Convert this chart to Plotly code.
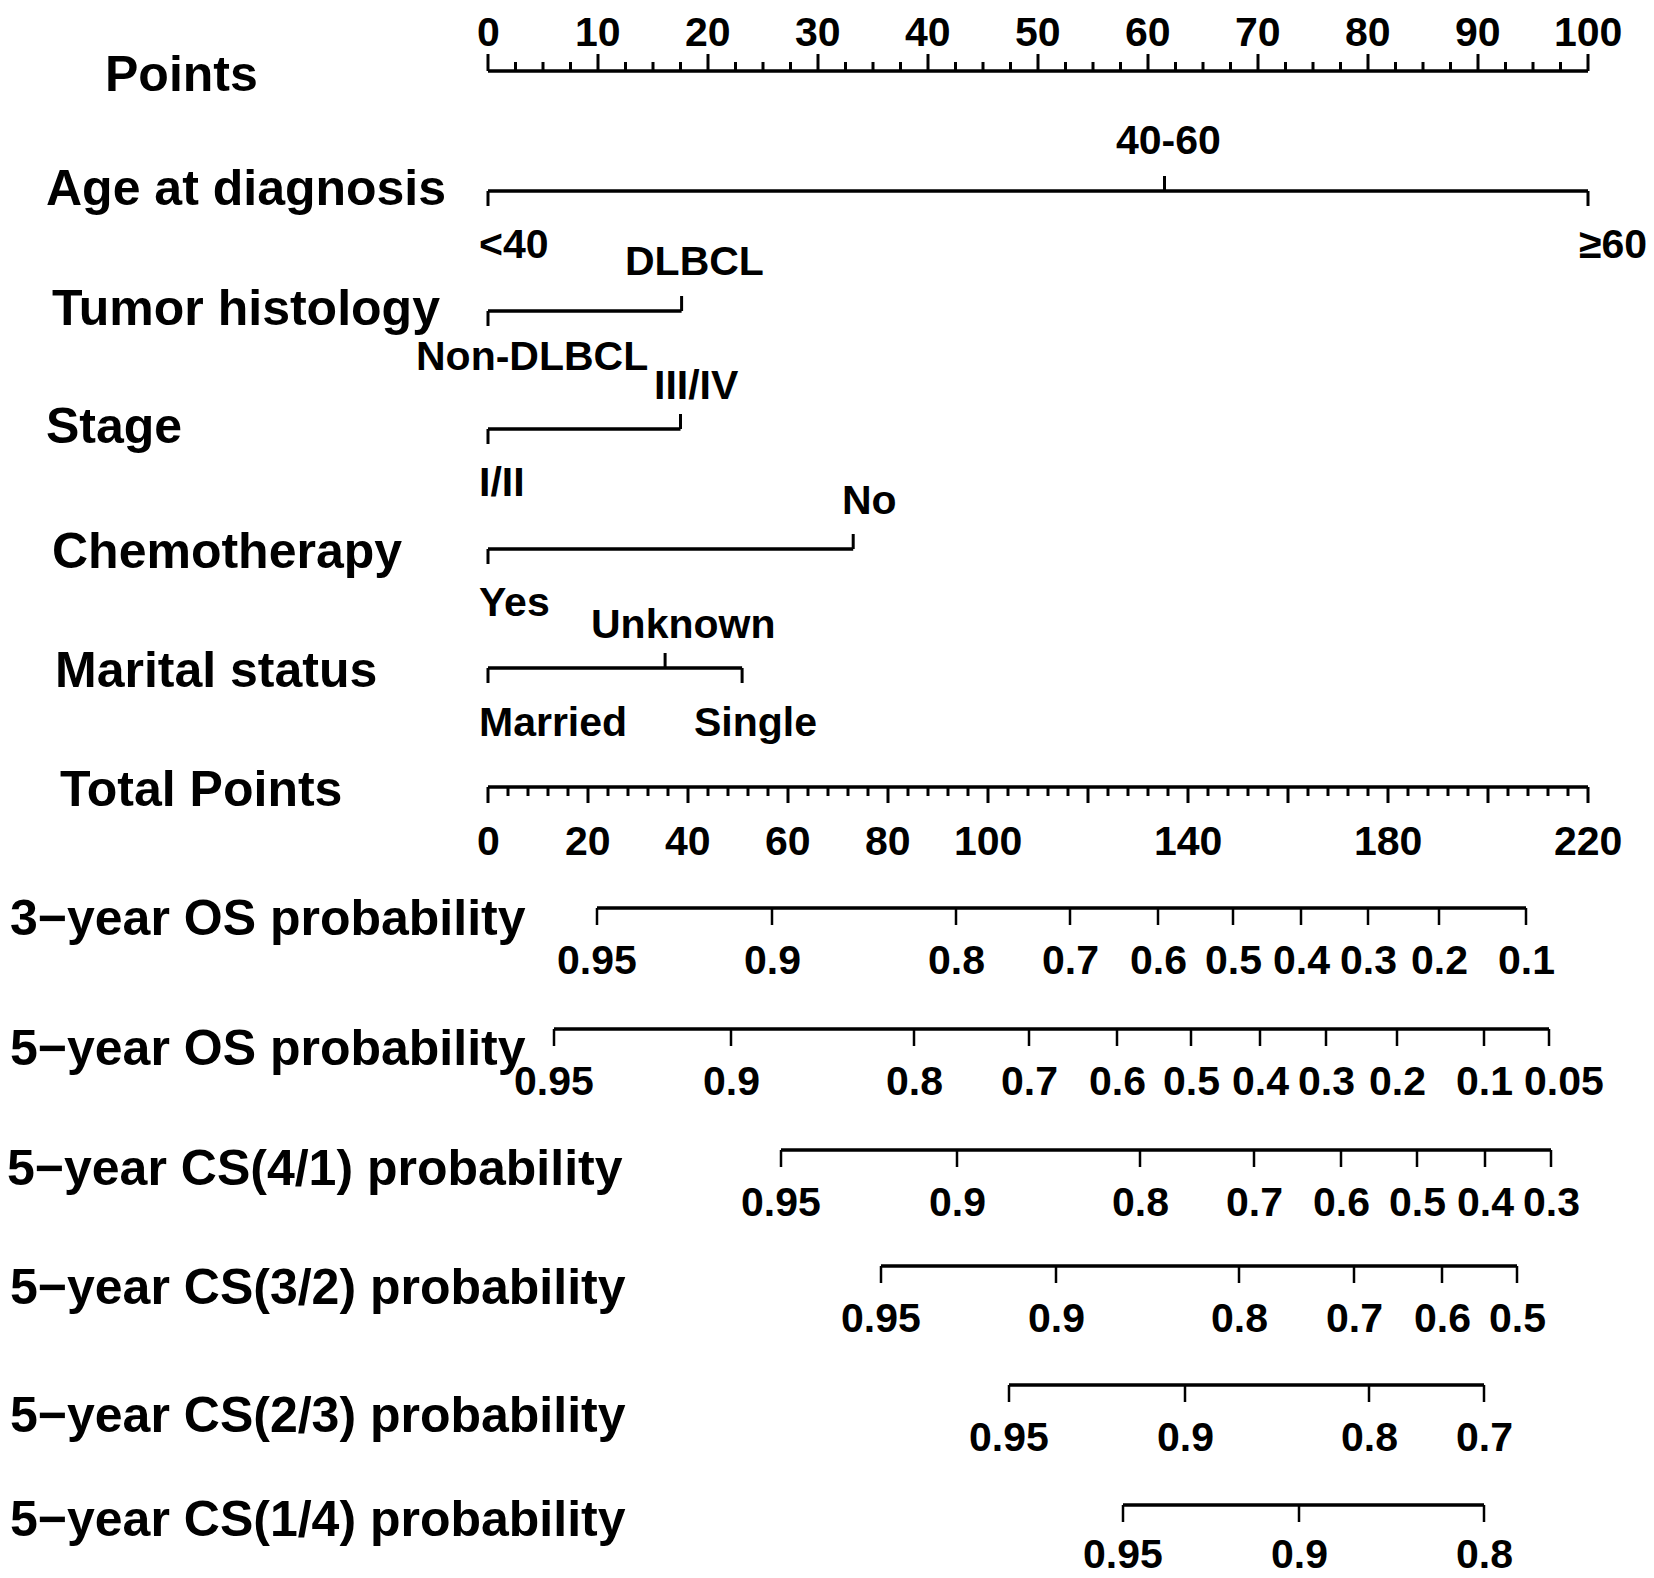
import plotly.graph_objects as go

# ---- data ----
points_ticks = list(range(0, 101, 10))
total_ticks = [0, 20, 40, 60, 80, 100, 140, 180, 220]

age_levels = ["<40", "40-60", "≥60"]
age_points = [0, 61.5, 100]
histology_levels = ["Non-DLBCL", "DLBCL"]
histology_points = [0, 17.6]
stage_levels = ["I/II", "III/IV"]
stage_points = [0, 17.5]
chemo_levels = ["Yes", "No"]
chemo_points = [0, 33.2]
marital_levels = ["Married", "Unknown", "Single"]
marital_points = [0, 16.1, 23.1]

os3_labels = ["0.95", "0.9", "0.8", "0.7", "0.6", "0.5", "0.4", "0.3", "0.2", "0.1"]
os3_total = [21.8, 56.8, 93.6, 116.4, 134.0, 149.0, 162.6, 176.0, 190.2, 207.6]
os5_labels = ["0.95", "0.9", "0.8", "0.7", "0.6", "0.5", "0.4", "0.3", "0.2", "0.1", "0.05"]
os5_total = [13.2, 48.6, 85.2, 108.2, 125.8, 140.6, 154.4, 167.6, 181.8, 199.2, 212.2]
cs41_labels = ["0.95", "0.9", "0.8", "0.7", "0.6", "0.5", "0.4", "0.3"]
cs41_total = [58.6, 93.8, 130.4, 153.2, 170.6, 185.8, 199.4, 212.6]
cs32_labels = ["0.95", "0.9", "0.8", "0.7", "0.6", "0.5"]
cs32_total = [78.6, 113.6, 150.2, 173.2, 190.8, 205.8]
cs23_labels = ["0.95", "0.9", "0.8", "0.7"]
cs23_total = [104.2, 139.4, 176.2, 199.2]
cs14_labels = ["0.95", "0.9", "0.8"]
cs14_total = [127.0, 162.2, 199.2]

# ---- layout (pixel rows of the page, label placement) ----
PAGE_W, PAGE_H = 1654, 1578
OFF = 8                      # the page body adds an 8px margin
W, H = PAGE_W - OFF, PAGE_H - OFF
X0, X1 = 488, 1588           # page pixels of 0 and 100 on the points scale
FONT = "Liberation Sans, Arial, sans-serif"
TICK_SIZE = 41
ROW_SIZE = 50
LW = 3.5

px_per_pt = (X1 - X0) / 100
px_per_tot = (X1 - X0) / 220

fig = go.Figure()
annotations = []


def add_lines(xs, ys, xaxis="x", width=LW):
    fig.add_trace(go.Scatter(x=xs, y=ys, mode="lines", xaxis=xaxis, yaxis="y",
                             line=dict(color="black", width=width),
                             hoverinfo="skip", showlegend=False))


def add_text(x, y, text, size=TICK_SIZE, xref="x", xanchor="center", xshift=0,
             yanchor="middle"):
    annotations.append(dict(x=x, y=y, xref=xref, yref="y", text=text, showarrow=False,
                            xanchor=xanchor, yanchor=yanchor, xshift=xshift, borderpad=0,
                            font=dict(family=FONT, size=size, color="black", weight="bold")))


def row_label(text, left_px, y):
    annotations.append(dict(x=(left_px - OFF) / W, y=y, xref="paper", yref="y", text=text,
                            showarrow=False, xanchor="left", yanchor="middle",
                            font=dict(family=FONT, size=ROW_SIZE, color="black", weight="bold")))


# Points scale (ticks point up)
y_pts = 71
add_lines([0, 100], [y_pts, y_pts])
xs, ys = [], []
for i in range(41):
    v = i * 2.5
    ln = 17 if i % 4 == 0 else 9
    xs += [v, v, None]
    ys += [y_pts, y_pts - ln, None]
add_lines(xs, ys, width=3)
for v in points_ticks:
    add_text(v, OFF, str(v), yanchor="top")
row_label("Points", 103, 74)

# categorical variable scales
variables = [
    ("Age at diagnosis", age_levels, age_points, 191, 188, 44),
    ("Tumor histology", histology_levels, histology_points, 311, 308, 50),
    ("Stage", stage_levels, stage_points, 429, 426, 44),
    ("Chemotherapy", chemo_levels, chemo_points, 549, 551, 50),
    ("Marital status", marital_levels, marital_points, 668, 670, 53),
]
# (anchor, pixel shift, vertical offset from the line) for each category label
label_nudge = {
    "<40": ("left", -10, 53), "40-60": ("center", 4, -51), "≥60": ("left", -10, 53),
    "Non-DLBCL": ("center", 44, 45), "DLBCL": ("center", 13, -50),
    "I/II": ("left", -10, 53), "III/IV": ("center", 16, -44),
    "Yes": ("left", -10, 53), "No": ("center", 16, -49),
    "Married": ("left", -10, 54), "Unknown": ("center", 18, -44), "Single": ("center", 13, 54),
}
for name, levels, pts, y_line, y_lab, left in variables:
    add_lines([min(pts), max(pts)], [y_line, y_line])
    xs, ys = [], []
    for k, (lev, p) in enumerate(zip(levels, pts)):
        up = k % 2 == 1
        xs += [p, p, None]
        ys += [y_line, y_line + (-15 if up else 15), None]
        anchor, shift, dy = label_nudge[lev]
        add_text(p, y_line + dy, lev, xanchor=anchor, xshift=shift)
    add_lines(xs, ys, width=3)
    row_label(name, left, y_lab)

# Total points scale (ticks point down)
y_tot = 787
add_lines([0, 220], [y_tot, y_tot], xaxis="x2")
xs, ys = [], []
for i in range(56):
    v = i * 4
    ln = 16 if i % 5 == 0 else 9
    xs += [v, v, None]
    ys += [y_tot, y_tot + ln, None]
add_lines(xs, ys, xaxis="x2", width=3)
for v in total_ticks:
    add_text(v, y_tot + 54, str(v), xref="x2")
row_label("Total Points", 58, 789)

# probability scales
prob_rows = [
    ("3−year OS probability", os3_labels, os3_total, 908, 918, 8),
    ("5−year OS probability", os5_labels, os5_total, 1029, 1048, 8),
    ("5−year CS(4/1) probability", cs41_labels, cs41_total, 1150, 1168, 5),
    ("5−year CS(3/2) probability", cs32_labels, cs32_total, 1266, 1287, 8),
    ("5−year CS(2/3) probability", cs23_labels, cs23_total, 1385, 1415, 8),
    ("5−year CS(1/4) probability", cs14_labels, cs14_total, 1505, 1519, 8),
]
for r, (name, labs, tots, y_line, y_lab, left) in enumerate(prob_rows):
    add_lines([min(tots), max(tots)], [y_line, y_line], xaxis="x2")
    xs, ys = [], []
    for t in tots:
        xs += [t, t, None]
        ys += [y_line, y_line + 17, None]
    add_lines(xs, ys, xaxis="x2", width=2.5)
    last_row = r == len(prob_rows) - 1
    for j, (lab, t) in enumerate(zip(labs, tots)):
        # last label of the crowded 5-year OS scale sits a little to the right
        shift = 15 if (lab == "0.05" and j == len(labs) - 1) else 0
        if last_row:
            # keep the bottom row inside the page
            add_text(t, PAGE_H, lab, xref="x2", xshift=shift, yanchor="bottom")
        else:
            add_text(t, y_line + 52, lab, xref="x2", xshift=shift)
    row_label(name, left, y_lab)

fig.update_layout(
    width=W, height=H,
    margin=dict(l=0, r=0, t=0, b=0),
    paper_bgcolor="white", plot_bgcolor="white",
    xaxis=dict(range=[(OFF - X0) / px_per_pt, (PAGE_W - X0) / px_per_pt],
               visible=False, fixedrange=True),
    xaxis2=dict(range=[(OFF - X0) / px_per_tot, (PAGE_W - X0) / px_per_tot],
                visible=False, overlaying="x", fixedrange=True),
    yaxis=dict(range=[PAGE_H, OFF], visible=False, fixedrange=True),
    annotations=annotations,
    showlegend=False,
)

fig.write_html("out.html")
